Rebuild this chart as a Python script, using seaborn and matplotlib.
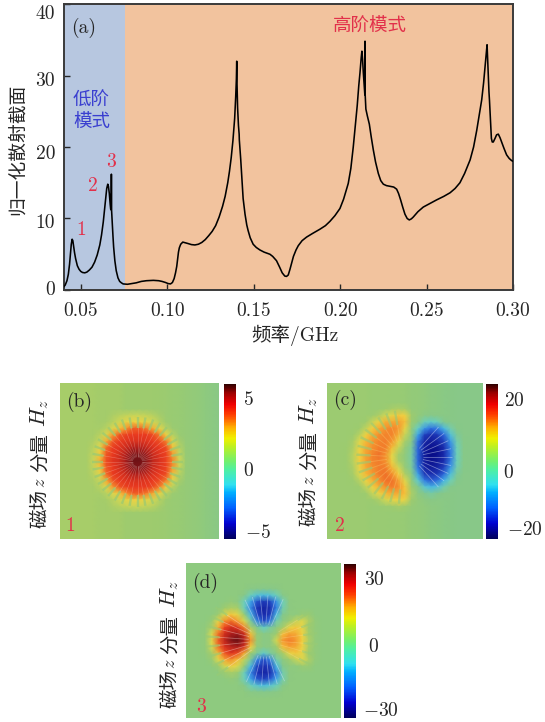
import numpy as np
import pandas as pd
import matplotlib
matplotlib.use("Agg")
import matplotlib.pyplot as plt
from matplotlib.colors import LinearSegmentedColormap, Normalize
from matplotlib.cm import ScalarMappable
from matplotlib.transforms import ScaledTranslation
import seaborn as sns

sns.set_theme(style="white")
plt.rcParams["font.family"] = ["cmr10", "Noto Sans CJK SC", "DejaVu Sans"]
plt.rcParams["mathtext.fontset"] = "cm"
plt.rcParams["axes.unicode_minus"] = False

# ---------- data ----------
freq = [.0400,.0410,.0420,.0428,.0435,.0440,.0445,.0450,.0454,.0458,.0464,.0470,.0480,.0490,.0500,.0510,.0523,.0535,.0550,.0565,
        .0580,.0595,.0610,.0620,.0630,.0638,.0645,.0650,.0656,.0660,.0665,.0670,.0673,.0676,.0677,.0678,.0682,.0686,.0690,.0697,
        .0705,.0715,.0725,.0735,.0745,.0770,.0795,.0820,.0850,.0880,.0920,.0950,.0970,.0990,.1005,.1019,.1030,.1040,.1048,.1055,
        .1060,.1065,.1070,.1078,.1090,.1105,.1120,.1140,.1160,.1180,.1200,.1220,.1240,.1260,.1280,.1300,.1320,.1335,.1350,.1360,
        .1370,.1380,.1390,.1396,.1400,.1402,.1403,.1407,.1412,.1416,.1417,.1425,.1430,.1439,.1450,.1460,.1468,.1480,.1497,.1515,
        .1536,.1560,.1594,.1610,.1632,.1650,.1665,.1680,.1690,.1700,.1710,.1719,.1730,.1745,.1758,.1780,.1806,.1840,.1883,.1915,
        .1941,.1970,.1999,.2020,.2047,.2062,.2076,.2088,.2099,.2108,.2115,.2122,.2126,.2130,.2134,.2140,.2143,.2144,.2145,.2149,
        .2158,.2169,.2180,.2192,.2205,.2221,.2235,.2250,.2268,.2288,.2310,.2327,.2338,.2350,.2362,.2375,.2388,.2400,.2412,.2423,
        .2450,.2481,.2520,.2558,.2600,.2636,.2665,.2693,.2720,.2752,.2772,.2790,.2805,.2819,.2830,.2838,.2845,.2850,.2853,.2857,
        .2860,.2861,.2864,.2867,.2870,.2875,.2880,.2886,.2896,.2905,.2915,.2925,.2934,.2948,.2963,.2978,.2992,.3000]
cross = [.4,.7,1.3,2.2,3.6,5.0,6.4,7.1,6.9,6.2,5.2,4.4,3.4,2.9,2.6,2.45,2.4,2.5,2.8,3.2,
         3.9,4.9,6.3,7.7,9.5,11.4,13.2,14.2,14.8,14.5,13.5,12.0,11.3,11.2,16.2,11.2,9.3,7.6,6.0,4.1,
         2.7,1.7,1.2,1.0,.85,.8,.9,1.0,1.2,1.3,1.35,1.3,1.2,1.05,.9,.85,1.05,1.6,2.4,3.3,
         4.3,5.3,5.9,6.4,6.7,6.6,6.5,6.35,6.3,6.4,6.65,7.05,7.6,8.2,9.0,10.2,11.7,13.1,15.0,16.6,
         18.5,20.9,24.0,27.0,29.5,32.0,29.5,25.5,23.0,21.8,21.0,18.3,16.3,12.8,10.6,9.1,8.3,7.3,6.4,5.95,
         5.6,5.3,5.0,4.7,4.1,3.2,2.4,1.95,1.9,2.1,2.9,3.7,4.7,5.6,6.2,6.9,7.4,7.9,8.5,9.0,
         9.6,10.4,11.4,12.7,14.9,17.0,20.0,23.0,25.8,28.6,30.4,32.5,33.4,32.2,30.5,28.5,27.3,34.8,27.3,25.3,
         24.3,23.2,21.4,19.6,17.9,16.3,15.3,14.8,14.6,14.5,14.4,14.1,13.5,12.6,11.6,10.6,10.0,9.8,9.95,10.2,
         10.95,11.6,12.1,12.6,13.1,13.6,14.2,15.0,16.3,18.2,20.0,22.3,24.5,26.6,29.0,31.2,33.0,34.3,32.5,30.0,
         28.6,27.7,26.5,25.0,23.5,21.2,20.7,20.7,21.2,21.7,21.8,21.3,20.7,19.8,18.9,18.4,18.1,18.0]
xtick_vals = [.05, .10, .15, .20, .25, .30]
xtick_labels = ["0.05", "0.10", "0.15", "0.20", "0.25", "0.30"]
ytick_vals = [0, 10, 20, 30, 40]
low_mode_edge = 0.0758

# field maps, percent of the colour scale
field_b = [
[12,12,12,12,12,12,11,11,11,11,10,10,10,10,10,9,8,7,6,4,3,1,-1,-3,-5],
[12,12,12,12,12,12,11,11,11,11,10,10,10,10,10,9,8,7,6,4,3,1,-1,-3,-5],
[12,12,12,12,12,12,11,11,11,11,10,10,10,10,10,9,8,7,6,4,3,1,-1,-3,-5],
[12,12,12,12,12,12,11,11,11,11,10,10,10,10,10,9,8,7,6,4,3,1,-1,-3,-5],
[12,12,12,12,12,12,11,11,11,11,10,10,10,10,10,9,8,7,6,4,3,1,-1,-3,-5],
[12,12,12,12,12,12,11,11,14,16,18,20,20,18,16,12,8,7,6,4,3,1,-1,-3,-5],
[12,12,12,12,12,12,11,12,16,22,30,34,34,30,22,16,10,7,6,4,3,1,-1,-3,-5],
[12,12,12,12,12,12,12,16,26,40,52,62,62,56,46,30,16,8,6,4,3,1,-1,-3,-5],
[12,12,12,12,12,12,16,28,50,64,68,70,70,70,66,56,34,16,7,4,3,1,-1,-3,-5],
[12,12,12,12,12,14,20,46,64,70,72,74,74,72,70,66,56,28,12,4,3,1,-1,-3,-5],
[12,12,12,12,12,16,30,60,70,72,78,84,84,80,74,70,66,40,16,5,3,1,-1,-3,-5],
[12,12,12,12,12,18,38,64,70,76,84,92,92,88,78,72,68,50,20,5,3,1,-1,-3,-5],
[12,12,12,12,12,20,44,66,72,76,86,94,94,90,80,74,68,54,22,6,3,1,-1,-3,-5],
[12,12,12,12,12,18,38,64,70,76,84,92,92,88,78,72,68,50,20,5,3,1,-1,-3,-5],
[12,12,12,12,12,16,30,60,70,72,78,84,84,80,74,70,66,40,16,5,3,1,-1,-3,-5],
[12,12,12,12,12,14,20,46,64,70,72,74,74,72,70,66,56,28,12,4,3,1,-1,-3,-5],
[12,12,12,12,12,12,16,28,50,64,68,70,70,70,66,56,34,16,7,4,3,1,-1,-3,-5],
[12,12,12,12,12,12,12,16,26,40,52,62,62,56,46,30,16,8,6,4,3,1,-1,-3,-5],
[12,12,12,12,12,12,11,12,16,22,30,34,34,30,22,16,10,7,6,4,3,1,-1,-3,-5],
[12,12,12,12,12,12,11,11,14,16,18,20,20,18,16,12,8,7,6,4,3,1,-1,-3,-5],
[12,12,12,12,12,12,11,11,11,11,10,10,10,10,10,9,8,7,6,4,3,1,-1,-3,-5],
[12,12,12,12,12,12,11,11,11,11,10,10,10,10,10,9,8,7,6,4,3,1,-1,-3,-5],
[12,12,12,12,12,12,11,11,11,11,10,10,10,10,10,9,8,7,6,4,3,1,-1,-3,-5],
[12,12,12,12,12,12,11,11,11,11,10,10,10,10,10,9,8,7,6,4,3,1,-1,-3,-5],
[12,12,12,12,12,12,11,11,11,11,10,10,10,10,10,9,8,7,6,4,3,1,-1,-3,-5],
]
field_c = [
[8,8,8,8,8,8,8,7,7,7,6,6,5,3,2,0,-2,-3,-4,-5,-6,-6,-6,-6,-6],
[8,8,8,8,8,8,8,7,7,7,6,6,5,3,2,0,-2,-3,-4,-5,-6,-6,-6,-6,-6],
[8,8,8,8,8,8,8,7,7,7,6,6,5,3,2,0,-2,-3,-4,-5,-6,-6,-6,-6,-6],
[8,8,8,8,8,8,8,7,7,7,6,6,5,3,2,0,-2,-3,-4,-5,-6,-6,-6,-6,-6],
[8,8,8,8,8,8,8,7,7,8,12,14,12,3,2,0,-2,-3,-4,-5,-6,-6,-6,-6,-6],
[8,8,8,8,8,8,8,9,14,22,30,38,34,10,2,-4,-6,-5,-4,-5,-6,-6,-6,-6,-6],
[8,8,8,8,8,8,10,20,34,44,46,48,40,8,-4,-18,-24,-18,-10,-6,-6,-6,-6,-6,-6],
[8,8,8,8,8,10,18,36,46,52,54,50,30,2,-22,-48,-60,-56,-36,-16,-7,-6,-6,-6,-6],
[8,8,8,8,9,16,34,46,52,54,54,44,20,0,-44,-74,-80,-76,-62,-32,-12,-6,-6,-6,-6],
[8,8,8,8,12,26,42,50,54,56,50,32,12,-6,-58,-84,-88,-84,-74,-48,-16,-7,-6,-6,-6],
[8,8,8,9,14,32,46,52,56,56,40,20,4,-12,-62,-86,-92,-90,-80,-56,-18,-7,-6,-6,-6],
[8,8,8,9,16,36,48,54,58,52,30,12,0,-14,-62,-88,-95,-92,-82,-58,-18,-7,-6,-6,-6],
[8,8,8,9,16,36,48,54,56,52,32,12,0,-14,-62,-86,-92,-88,-80,-56,-18,-7,-6,-6,-6],
[8,8,8,9,14,32,46,52,56,56,42,22,4,-12,-58,-84,-88,-84,-74,-48,-16,-7,-6,-6,-6],
[8,8,8,8,12,26,42,50,56,58,52,36,14,-4,-46,-76,-80,-76,-62,-34,-12,-6,-6,-6,-6],
[8,8,8,8,9,16,34,44,52,58,58,48,26,2,-26,-56,-66,-60,-40,-18,-8,-6,-6,-6,-6],
[8,8,8,8,8,10,18,34,44,52,56,52,38,10,-8,-28,-38,-32,-16,-8,-6,-6,-6,-6,-6],
[8,8,8,8,8,8,10,20,32,42,46,46,40,14,-2,-10,-14,-10,-6,-5,-6,-6,-6,-6,-6],
[8,8,8,8,8,8,8,9,14,22,30,34,30,10,2,-2,-5,-4,-4,-5,-6,-6,-6,-6,-6],
[8,8,8,8,8,8,8,7,7,8,10,12,10,4,2,0,-2,-3,-4,-5,-6,-6,-6,-6,-6],
[8,8,8,8,8,8,8,7,7,7,6,6,5,3,2,0,-2,-3,-4,-5,-6,-6,-6,-6,-6],
[8,8,8,8,8,8,8,7,7,7,6,6,5,3,2,0,-2,-3,-4,-5,-6,-6,-6,-6,-6],
[8,8,8,8,8,8,8,7,7,7,6,6,5,3,2,0,-2,-3,-4,-5,-6,-6,-6,-6,-6],
[8,8,8,8,8,8,8,7,7,7,6,6,5,3,2,0,-2,-3,-4,-5,-6,-6,-6,-6,-6],
[8,8,8,8,8,8,8,7,7,7,6,6,5,3,2,0,-2,-3,-4,-5,-6,-6,-6,-6,-6],
]
field_d = [
[-1,-1,-1,-1,-1,-1,-1,-1,-1,-1,-1,-1,-1,-1,-1,-1,-1,-1,-1,-1,-1,-1,-1,-1,-1],
[-1,-1,-1,-1,-1,-1,-1,-1,-1,-1,-1,-1,-1,-1,-1,-1,-1,-1,-1,-1,-1,-1,-1,-1,-1],
[-1,-1,-1,-1,-1,-1,-1,-1,-1,-1,-1,-1,-1,-1,-1,-1,-1,-1,-1,-1,-1,-1,-1,-1,-1],
[-1,-1,-1,-1,-1,-1,-1,-1,-1,-1,-1,-1,-1,-1,-1,-1,-1,-1,-1,-1,-1,-1,-1,-1,-1],
[-1,-1,-1,-1,-1,-1,-1,-1,-1,-1,-4,-6,-7,-6,-4,-1,-1,-1,-1,-1,-1,-1,-1,-1,-1],
[-1,-1,-1,-1,-1,-1,-1,-1,-1,-6,-18,-30,-34,-30,-18,-6,-1,-1,-1,-1,-1,-1,-1,-1,-1],
[-1,-1,-1,-1,-1,-1,-1,3,-2,-18,-44,-68,-76,-72,-50,-18,-2,-1,-1,-1,-1,-1,-1,-1,-1],
[-1,-1,-1,-1,-1,-1,10,14,12,-18,-52,-78,-84,-80,-54,-16,-2,-1,-1,-1,-1,-1,-1,-1,-1],
[-1,-1,-1,-1,-1,8,26,38,28,6,-36,-72,-82,-76,-36,-8,-1,-1,6,6,-1,-1,-1,-1,-1],
[-1,-1,-1,-1,6,30,52,58,48,24,-12,-52,-72,-58,-16,-3,8,18,26,14,2,-1,-1,-1,-1],
[-1,-1,-1,0,14,44,68,76,72,54,14,-10,-22,-14,-3,12,30,38,30,10,2,-1,-1,-1,-1],
[-1,-1,-1,2,24,58,76,85,87,78,40,4,-4,-2,8,40,48,46,34,12,2,-1,-1,-1,-1],
[-1,-1,-1,2,26,62,80,91,95,85,52,6,-4,-2,22,50,56,50,36,14,2,-1,-1,-1,-1],
[-1,-1,-1,2,24,58,74,82,85,75,36,2,-4,-2,10,40,48,46,34,12,2,-1,-1,-1,-1],
[-1,-1,-1,0,12,42,64,72,66,46,10,-12,-24,-14,-2,12,30,38,30,10,2,-1,-1,-1,-1],
[-1,-1,-1,-1,6,26,46,52,40,18,-12,-52,-70,-56,-16,-3,8,18,26,14,2,-1,-1,-1,-1],
[-1,-1,-1,-1,-1,8,22,34,24,4,-36,-72,-80,-74,-36,-8,-1,-1,6,6,-1,-1,-1,-1,-1],
[-1,-1,-1,-1,-1,-1,8,12,8,-18,-52,-78,-84,-80,-54,-16,-2,-1,-1,-1,-1,-1,-1,-1,-1],
[-1,-1,-1,-1,-1,-1,-1,2,-2,-18,-44,-66,-74,-66,-44,-16,-2,-1,-1,-1,-1,-1,-1,-1,-1],
[-1,-1,-1,-1,-1,-1,-1,-1,-1,-6,-18,-28,-34,-28,-18,-6,-1,-1,-1,-1,-1,-1,-1,-1,-1],
[-1,-1,-1,-1,-1,-1,-1,-1,-1,-1,-4,-6,-7,-6,-4,-1,-1,-1,-1,-1,-1,-1,-1,-1,-1],
[-1,-1,-1,-1,-1,-1,-1,-1,-1,-1,-1,-1,-1,-1,-1,-1,-1,-1,-1,-1,-1,-1,-1,-1,-1],
[-1,-1,-1,-1,-1,-1,-1,-1,-1,-1,-1,-1,-1,-1,-1,-1,-1,-1,-1,-1,-1,-1,-1,-1,-1],
[-1,-1,-1,-1,-1,-1,-1,-1,-1,-1,-1,-1,-1,-1,-1,-1,-1,-1,-1,-1,-1,-1,-1,-1,-1],
[-1,-1,-1,-1,-1,-1,-1,-1,-1,-1,-1,-1,-1,-1,-1,-1,-1,-1,-1,-1,-1,-1,-1,-1,-1],
]
scale_b, scale_c, scale_d = 6, 24, 36
cb_ticks_b, cb_ticks_c, cb_ticks_d = [5, 0, -5], [20, 0, -20], [30, 0, -30]

# radial streak directions seen in the field maps (degrees)
angles_disc = [0, 10, 20, 30, 40, 50, 60, 70, 80, 90, 100, 110, 120, 130, 140, 150, 160, 170,
               180, 190, 200, 210, 220, 230, 240, 250, 260, 270, 280, 290, 300, 310, 320, 330, 340, 350]
angles_c_left = [100, 111, 122, 133, 144, 155, 166, 177, 188, 199, 210, 221, 232, 243, 254, 265]
angles_c_right = [-48, -36, -24, -12, 0, 12, 24, 36, 48]
angles_d_left = [146, 156, 166, 176, 186, 196, 206, 216]
angles_d_right = [-28, -16, -4, 8, 20, 32]
angles_d_top = [66, 76, 86, 96, 106, 116]
angles_d_bottom = [246, 256, 266, 276, 286, 296]

# ---------- styles ----------
W, H = 545, 722
INK = "#262626"
RED = "#e2304a"
BLUE = "#3a3fd0"
CJK = ["Noto Sans CJK SC", "DejaVu Sans"]
BG_GREEN = "#98ca74"

stops_img = [(0, "#00007a"), (.1, "#1c2fb0"), (.2, "#2f6fe0"), (.3, "#45b5e8"), (.4, "#6cd0c0"), (.45, "#82c78f"),
             (.5, "#90ca7d"), (.55, "#9ecb6e"), (.62, "#d8d850"), (.68, "#f2d040"), (.75, "#f59a30"), (.85, "#ea3a20"),
             (.93, "#a81c1c"), (1, "#4a0a10")]
stops_bar = [(0, "#00005a"), (.1, "#0000d0"), (.2, "#0060ff"), (.3, "#00b0ff"), (.35, "#30e0f0"), (.45, "#50f0a0"),
             (.5, "#70f070"), (.6, "#c0f020"), (.65, "#f0f000"), (.72, "#ffb000"), (.8, "#ff4000"), (.87, "#f00000"),
             (.94, "#a00000"), (1, "#300000")]
cmap_img = LinearSegmentedColormap.from_list("img", stops_img)
cmap_bar = LinearSegmentedColormap.from_list("bar", stops_bar)

fig = plt.figure(figsize=(W / 100, H / 100), dpi=100, facecolor="white")


def box(x0, y0, x1, y1):
    return [x0 / W, 1 - y1 / H, (x1 - x0) / W, (y1 - y0) / H]


def put(x, y, s, **kw):
    kw.setdefault("ha", "center")
    kw.setdefault("va", "center")
    kw.setdefault("color", INK)
    return fig.text(x / W, 1 - y / H, s, **kw)


def nudge(label, dx, dy):
    label.set_transform(label.get_transform() + ScaledTranslation(dx / 100, -dy / 100, fig.dpi_scale_trans))


# ---------- panel (a) ----------
ax = fig.add_axes(box(63.5, 4, 513, 290))
ax.axvspan(0.04, low_mode_edge, color="#b7c7e0", lw=0, zorder=0)
ax.axvspan(low_mode_edge, 0.30, color="#f2c39e", lw=0, zorder=0)
sns.lineplot(x=freq, y=cross, sort=False, estimator=None, color="black", lw=1.15, ax=ax, zorder=3)
ax.set_xlim(0.04, 0.30)
ax.set_ylim(0, 40)
ax.set_xticks(xtick_vals, xtick_labels)
ax.set_yticks(ytick_vals, [str(v) for v in ytick_vals])
ax.tick_params(direction="in", length=4.5, width=1, color=INK, labelcolor=INK, labelsize=14,
               bottom=True, left=True, pad=6)
ax.tick_params(axis="x", pad=9)
for sp in ax.spines.values():
    sp.set_color("#3a3a3a")
    sp.set_linewidth(1.4)
for lab, dy in zip(ax.get_yticklabels(), [-2, 3, 5, 4, 8]):
    nudge(lab, 0, dy)

put(295, 335, "频率/GHz", fontsize=14)
put(17, 149, "归一化散射截面", rotation=90, fontsize=13.5, family=CJK)
put(84, 28, "(a)", fontsize=14)
put(91.5, 100, "低阶", fontsize=13.3, family=CJK, color=BLUE)
put(91.5, 123, "模式", fontsize=13.3, family=CJK, color=BLUE)
put(370, 27, "高阶模式", fontsize=13.3, family=CJK, color=RED)
put(81, 230, "1", fontsize=14, color=RED)
put(93, 186, "2", fontsize=14, color=RED)
put(111, 162, "3", fontsize=14, color=RED)


# ---------- field panels ----------
def streaks(a, cx, cy, angles, r0, r1, color, lw, alpha):
    for ang in angles:
        t = np.deg2rad(ang)
        a.plot([cx + r0 * np.cos(t), cx + r1 * np.cos(t)], [cy - r0 * np.sin(t), cy - r1 * np.sin(t)],
               color=color, lw=lw, alpha=alpha, solid_capstyle="butt")


def field_panel(field, scale, ticks, img_box, bar_box, offsets, groups):
    a = fig.add_axes(box(*img_box))
    df = pd.DataFrame(np.array(field, dtype=float) * scale / 100)
    sns.heatmap(df, ax=a, cmap=cmap_img, vmin=-scale, vmax=scale, cbar=False,
                xticklabels=False, yticklabels=False, shading="gouraud")
    for g in groups:
        streaks(a, *g)
    n = df.shape[0] - 1
    a.set_xlim(0, n)
    a.set_ylim(n, 0)
    a.axis("off")
    c = fig.add_axes(box(*bar_box))
    cb = fig.colorbar(ScalarMappable(Normalize(-scale, scale), cmap_bar), cax=c)
    cb.outline.set_visible(False)
    cb.set_ticks(ticks)
    cb.set_ticklabels([f"${t}$" for t in ticks])
    c.tick_params(length=0, labelsize=14, labelcolor=INK, pad=0)
    for lab, (dx, dy) in zip(c.get_yticklabels(), offsets):
        nudge(lab, dx, dy)


def side_label(x, y_bottom):
    put(x, y_bottom - 2, "磁场", rotation=90, fontsize=14, family=CJK)
    put(x, y_bottom - 27, "$z$", rotation=90, fontsize=13)
    put(x, y_bottom - 57, "分量", rotation=90, fontsize=14, family=CJK)
    put(x, y_bottom - 97, "$H_z$", rotation=90, fontsize=16)


PALE = "#ffe8e0"
field_panel(field_b, scale_b, cb_ticks_b, (60, 383, 219, 539), (224, 384, 236, 539),
            [(7, 1), (7, 8), (9, 5)],
            [(11.7, 12.1, angles_disc, .7, 5.4, PALE, .45, .28),
             (11.7, 12.1, angles_disc, 5.2, 6.9, BG_GREEN, 1.7, .7)])
field_panel(field_c, scale_c, cb_ticks_c, (327, 383, 483, 539), (486, 384, 498, 539),
            [(6, 2), (5, 10), (9, 2)],
            [(11.7, 11.4, angles_c_left, 5.0, 7.2, BG_GREEN, 1.7, .6),
             (11.7, 11.4, angles_c_left, 2.5, 5.0, "#f9d27a", .7, .3),
             (13.0, 11.4, angles_c_right, 1.8, 6.2, "#e8f0ff", .55, .45)])
field_panel(field_d, scale_d, cb_ticks_d, (186, 563, 341, 718), (344, 564, 356, 718),
            [(8, 1), (12, 4), (7, 4)],
            [(12.2, 12, angles_d_left, 2.5, 7.2, PALE, .55, .4),
             (12.2, 12, angles_d_left, 7.0, 9.2, BG_GREEN, 1.6, .6),
             (12.2, 12, angles_d_right, 2.5, 6.5, "#ffe0a0", .55, .3),
             (12.2, 12, angles_d_right, 6.0, 8.2, BG_GREEN, 1.5, .55),
             (12.2, 12, angles_d_top, 2.5, 7.0, "#dfe8ff", .55, .45),
             (12.2, 12, angles_d_bottom, 2.5, 7.0, "#dfe8ff", .55, .45)])

side_label(40, 510)
side_label(309, 508)
side_label(170, 691)

put(79, 402, "(b)", fontsize=14)
put(70, 526, "1", fontsize=14, color=RED)
put(345, 400, "(c)", fontsize=14)
put(340, 526, "2", fontsize=14, color=RED)
put(205, 583, "(d)", fontsize=14)
put(201, 707, "3", fontsize=14, color=RED)

fig.savefig("out.png", dpi=100)
